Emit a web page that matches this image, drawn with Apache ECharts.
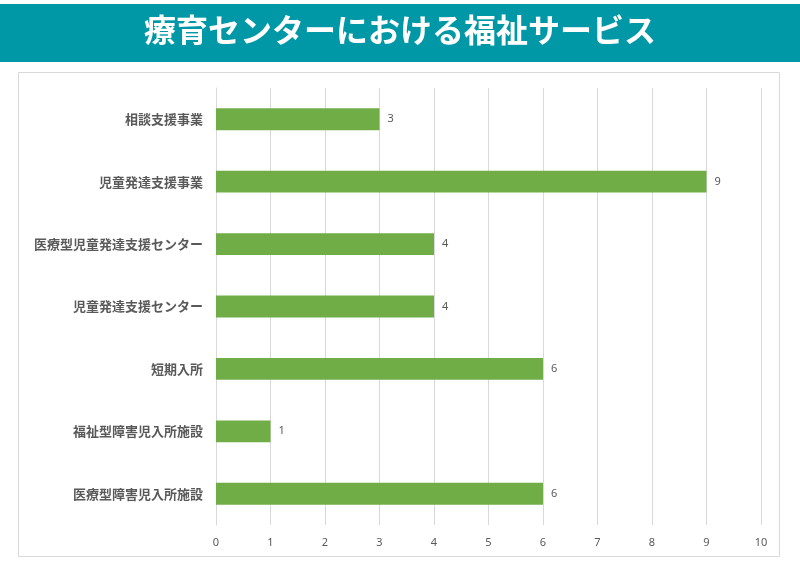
<!DOCTYPE html>
<html>
<head>
<meta charset="utf-8">
<script src="https://cdn.jsdelivr.net/npm/echarts@6/dist/echarts.min.js"></script>
<style>
html,body{margin:0;padding:0;background:#fff;}
#main{width:800px;height:570px;}
</style>
</head>
<body>
<div id="main"></div>
<script>
const titleText = '療育センターにおける福祉サービス';
const categories = ['相談支援事業','児童発達支援事業','医療型児童発達支援センター','児童発達支援センター','短期入所','福祉型障害児入所施設','医療型障害児入所施設'];
const values = [3,9,4,4,6,1,6];
const xTicks = [0,1,2,3,4,5,6,7,8,9,10];

const chart = echarts.init(document.getElementById('main'));
chart.setOption({
  backgroundColor:'#fff',
  animation:false,
  graphic:[
    {type:'rect',shape:{x:0,y:4,width:800,height:58},style:{fill:'#0098A6'},z:-1},
    {type:'rect',shape:{x:18.5,y:72.5,width:761,height:484},style:{fill:'none',stroke:'#d9d9d9',lineWidth:1},z:-1},
    {type:'text',left:'center',top:14,style:{text:titleText,fill:'#fff',font:'bold 32px "Noto Sans CJK JP"'}}
  ],
  grid:{left:216,right:39,top:88,bottom:45,containLabel:false},
  xAxis:{
    type:'value',min:xTicks[0],max:xTicks[xTicks.length-1],interval:1,
    axisLine:{show:false},axisTick:{show:false},
    axisLabel:{color:'#595959',fontSize:11,margin:12,fontFamily:'"Noto Sans", sans-serif'},
    splitLine:{show:true,lineStyle:{color:'#d9d9d9',width:1}}
  },
  yAxis:{
    type:'category',data:categories,inverse:true,
    axisLine:{show:true,lineStyle:{color:'#d9d9d9'}},axisTick:{show:false},
    axisLabel:{color:'#595959',fontSize:13,fontWeight:'bold',margin:13,fontFamily:'"Noto Sans CJK JP"'}
  },
  series:[{
    type:'bar',data:values,barWidth:'35%',
    itemStyle:{color:'#70AD47'},
    label:{show:true,position:'right',color:'#595959',fontSize:11,distance:8,fontFamily:'"Noto Sans", sans-serif'}
  }]
});
</script>
</body>
</html>
